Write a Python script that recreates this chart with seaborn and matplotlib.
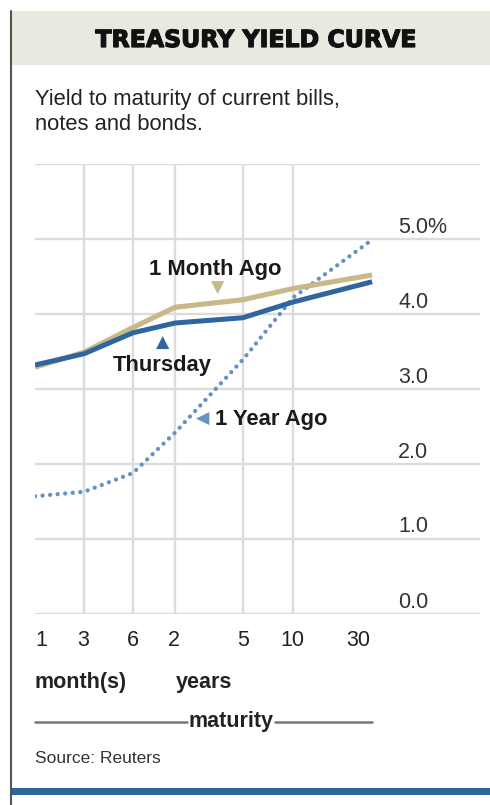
import matplotlib
matplotlib.use("Agg")
import matplotlib.pyplot as plt
import matplotlib.patheffects as pe
import seaborn as sns
import pandas as pd

# ---- data ----
maturities = ["1", "3", "6", "2", "5", "10", "30"]
maturity_x = [0, 1, 2, 2.86, 4.24, 5.27, 6.88]  # horizontal scale positions
thursday = [3.32, 3.47, 3.75, 3.88, 3.95, 4.16, 4.43]
month_ago = [3.29, 3.49, 3.82, 4.09, 4.19, 4.34, 4.52]
year_ago = [1.57, 1.63, 1.88, 2.42, 3.39, 4.22, 4.99]
y_ticks = [0, 1, 2, 3, 4, 5]
y_tick_labels = ["0.0", "1.0", "2.0", "3.0", "4.0", "5.0%"]
x_grid = ["3", "6", "2", "5", "10"]

W, H = 490, 805
sns.set_theme(style="white")
plt.rcParams["font.family"] = ["Liberation Sans", "DejaVu Sans"]

fig = plt.figure(figsize=(W / 100, H / 100), dpi=100)
fig.patch.set_facecolor("white")

def fx(px):
    return px / W

def fy(py):
    return 1 - py / H

# axes: x from 35px to 480px, y=0 at 614px, y=6 at 164px
ax = fig.add_axes([fx(35), fy(614), fx(480) - fx(35), fy(164) - fy(614)])

grid_c = "#dcdcdc"
for v in range(0, 7):
    ax.axhline(v, color=grid_c, lw=1.7, zorder=1)
for m in x_grid:
    ax.axvline(maturity_x[maturities.index(m)], color=grid_c, lw=1.7, zorder=1)

df = pd.DataFrame({
    "x": maturity_x * 3,
    "y": year_ago + month_ago + thursday,
    "series": ["1 Year Ago"] * 7 + ["1 Month Ago"] * 7 + ["Thursday"] * 7,
})
blue = "#2f66a0"
tan = "#c8b98a"
light = "#6592c4"

sns.lineplot(data=df[df.series == "1 Year Ago"], x="x", y="y", ax=ax, color=light,
             lw=3.1, linestyle=(0, (0.01, 1.75)), dash_capstyle="round", zorder=3,
             legend=False, estimator=None, sort=False)
sns.lineplot(data=df[df.series == "1 Month Ago"], x="x", y="y", ax=ax, color=tan,
             lw=3.7, zorder=4, legend=False, estimator=None, sort=False,
             solid_joinstyle="round", solid_capstyle="butt")
sns.lineplot(data=df[df.series == "Thursday"], x="x", y="y", ax=ax, color=blue,
             lw=3.6, zorder=5, legend=False, estimator=None, sort=False,
             solid_joinstyle="round", solid_capstyle="butt")
ax.set_xlim(0, 445 / 49)
ax.set_ylim(0, 6)
ax.axis("off")

# y labels on right
ylab_x = (398 - 35) / 49
for v, lab in zip(y_ticks, y_tick_labels):
    ax.text(ylab_x, v + 0.16, lab, ha="left", va="center", fontsize=15.5,
            color="#333333", zorder=6)

# annotations (figure pixel positions)
ann_c = "#1a1a1a"
AF = 15.8
fig.text(fx(215), fy(270), "1 Month Ago", ha="center", va="center",
         fontsize=AF, fontweight="bold", color=ann_c)
fig.text(fx(218), fy(288), "\u25BC", ha="center", va="center",
         fontsize=12.5, color=tan, family=["DejaVu Sans"])
fig.text(fx(162), fy(365), "Thursday", ha="center", va="center",
         fontsize=AF, fontweight="bold", color=ann_c)
fig.text(fx(163), fy(343), "\u25B2", ha="center", va="center",
         fontsize=12.5, color=blue, family=["DejaVu Sans"])
fig.text(fx(271), fy(419), "1 Year Ago", ha="center", va="center",
         fontsize=AF, fontweight="bold", color=ann_c)
fig.text(fx(203), fy(419), "\u25C0", ha="center", va="center",
         fontsize=12.5, color=light, family=["DejaVu Sans"])

# x tick labels
xlab_px = [41, 83, 133, 174, 243, 292, 358]
for lab, px in zip(maturities, xlab_px):
    fig.text(fx(px), fy(640), lab, ha="center", va="center", fontsize=15.5,
             color="#222222")

fig.text(fx(35), fy(682), "month(s)", ha="left", va="center", fontsize=15.5,
         fontweight="bold", color="#222222")
fig.text(fx(176), fy(682), "years", ha="left", va="center", fontsize=15.5,
         fontweight="bold", color="#222222")
fig.text(fx(231), fy(721), "maturity", ha="center", va="center", fontsize=15.5,
         fontweight="bold", color="#222222")
fig.add_artist(plt.Line2D([fx(35), fx(187)], [fy(722), fy(722)], color="#777777", lw=1.8))
fig.add_artist(plt.Line2D([fx(275), fx(372)], [fy(722), fy(722)], color="#777777", lw=1.8))
fig.text(fx(35), fy(758), "Source: Reuters", ha="left", va="center", fontsize=12.5,
         color="#333333")

# header band
fig.add_artist(plt.Rectangle((fx(12), fy(65)), 1 - fx(12), fy(11) - fy(65),
                             transform=fig.transFigure, facecolor="#e9e9df",
                             edgecolor="none", zorder=0))
fig.text(fx(256), fy(40), "TREASURY YIELD CURVE", ha="center", va="center",
         fontsize=17, fontweight="bold", color="#111111",
         family=["DejaVu Sans"],
         path_effects=[pe.withStroke(linewidth=0.9, foreground="#111111")])

fig.text(fx(35), fy(100), "Yield to maturity of current bills,", ha="left",
         va="center", fontsize=15.8, color="#222222")
fig.text(fx(35), fy(125), "notes and bonds.", ha="left", va="center",
         fontsize=15.8, color="#222222")

# bottom blue bar
fig.add_artist(plt.Rectangle((fx(12), fy(795)), 1 - fx(12), fy(788) - fy(795),
                             transform=fig.transFigure, facecolor="#2f6496",
                             edgecolor="none"))
# left border
fig.add_artist(plt.Line2D([fx(11), fx(11)], [fy(11), 0], color="#555555", lw=1.5))

fig.savefig("out.png", dpi=100, facecolor="white")
